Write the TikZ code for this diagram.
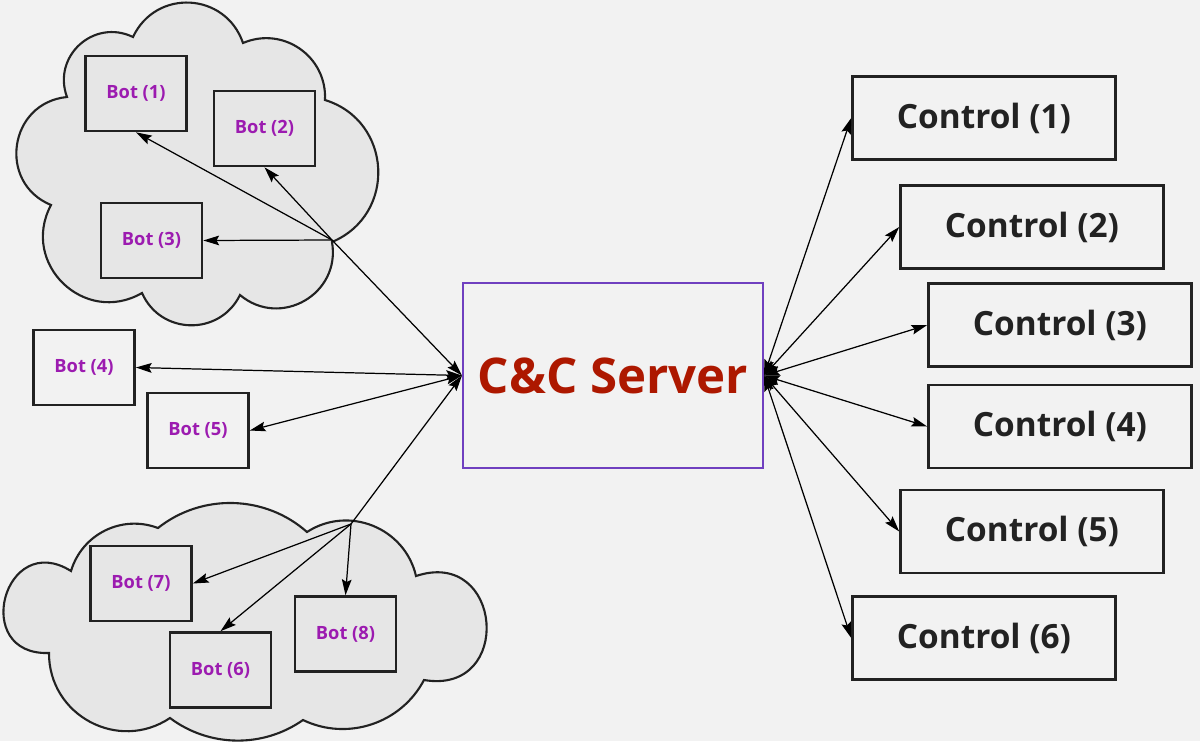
\documentclass[tikz,border=0pt]{standalone}
\usepackage{fontspec}
\setmainfont{Open Sans}
\usetikzlibrary{arrows.meta}

\definecolor{achtergrond}{HTML}{F2F2F2}
\definecolor{wolkgrijs}{HTML}{E6E6E6}
\definecolor{botpaars}{HTML}{9C1BB0}
\definecolor{serverrood}{HTML}{AD1800}
\definecolor{serverpaars}{HTML}{7040C0}
\definecolor{lijn}{HTML}{222222}

\begin{document}
\begin{tikzpicture}[x = 0.02cm, y = -0.02cm,
	tip/.tip = {Stealth[length = 9pt, width = 5.5pt, inset = 1.5pt]},
	wolk/.style = {draw = lijn, fill = wolkgrijs, line width = 1.2pt, line join = miter},
	bot/.style = {draw = lijn, line width = 1.5pt, minimum width = 2.02cm, minimum height = 1.5cm, text = botpaars, font = \fontsize{10.4}{12}\selectfont\bfseries},
	ctrl/.style = {draw = lijn, line width = 1.5pt, minimum width = 5.26cm, minimum height = 1.66cm, text = lijn, font = \fontsize{19}{22}\selectfont\bfseries},
	pijl/.style = {line width = 0.7pt, -tip},
	dubbel/.style = {line width = 0.7pt, tip-tip}]
				%	achtergrond
				\fill[achtergrond] (0, 0) rectangle (1200, 741);
				\useasboundingbox (0, 0) rectangle (1200, 741);
				
				%	wolk boven
				\draw[wolk] (67, 97) to[bend left = 68, looseness = 1.25] (133, 37)
					to[bend left = 68, looseness = 1.25] (243, 43)
					to[bend left = 58, looseness = 1.12] (325, 100)
					to[bend left = 70, looseness = 1.27] (332, 242)
					to[bend left = 70, looseness = 1.27] (240, 295)
					to[bend left = 65, looseness = 1.2] (142, 293)
					to[bend left = 74, looseness = 1.34] (51, 205)
					to[bend left = 76, looseness = 1.37] (67, 97) -- cycle;
				
				%	wolk onder
				\draw[wolk] (71, 571) to[bend left = 47, looseness = 1.02] (158, 528)
					to[bend left = 40, looseness = 0.96] (307, 532)
					to[bend left = 55, looseness = 1.08] (416, 576)
					to[bend left = 104, looseness = 2.25] (424, 680)
					to[bend left = 44, looseness = 0.99] (303, 720)
					to[bend left = 36, looseness = 0.94] (170, 718)
					to[bend left = 62, looseness = 1.16] (49, 653)
					to[bend left = 107, looseness = 2.38] (71, 571) -- cycle;
				
				%	bots
				\node[bot] (bot1) at (136, 93.5) {Bot (1)};
				\node[bot] (bot2) at (264.5, 128.5) {Bot (2)};
				\node[bot] (bot3) at (151.5, 240.5) {Bot (3)};
				\node[bot] (bot4) at (84, 367.5) {Bot (4)};
				\node[bot] (bot5) at (198, 430.5) {Bot (5)};
				\node[bot] (bot6) at (220.5, 670) {Bot (6)};
				\node[bot] (bot7) at (141, 583.5) {Bot (7)};
				\node[bot] (bot8) at (345.5, 634) {Bot (8)};
				
				%	server
				\node[draw = serverpaars, line width = 1.2pt, minimum width = 6cm, minimum height = 3.7cm, text = serverrood, font = \fontsize{28}{34}\selectfont\bfseries] (server) at (613, 375.5) {C\&C Server};
				
				%	controls
				\foreach \i/\x/\y in {1/984/118, 2/1032/227, 3/1060/325, 4/1060/426.5, 5/1032/531.5, 6/984/638}
					\node[ctrl] (ctrl\i) at (\x, \y) {Control (\i)};
				
				%	knooppunten
				\coordinate (hub1) at (332, 240);
				\coordinate (hub2) at (351, 524);
				
				%	pijlen
				\draw[pijl] (hub1) -- (server.west);
				\draw[pijl] (hub1) -- (bot1.south);
				\draw[pijl] (hub1) -- (bot2.south);
				\draw[pijl] (hub1) -- (bot3.east);
				\draw[dubbel] (bot4.east) -- (server.west);
				\draw[dubbel] (bot5.east) -- (server.west);
				\draw[pijl] (hub2) -- (server.west);
				\draw[pijl] (hub2) -- (bot7.east);
				\draw[pijl] (hub2) -- (bot6.north);
				\draw[pijl] (hub2) -- (bot8.north);
				\foreach \i in {1, ..., 6}
					\draw[dubbel] (server.east) -- (ctrl\i.west);
\end{tikzpicture}
\end{document}
